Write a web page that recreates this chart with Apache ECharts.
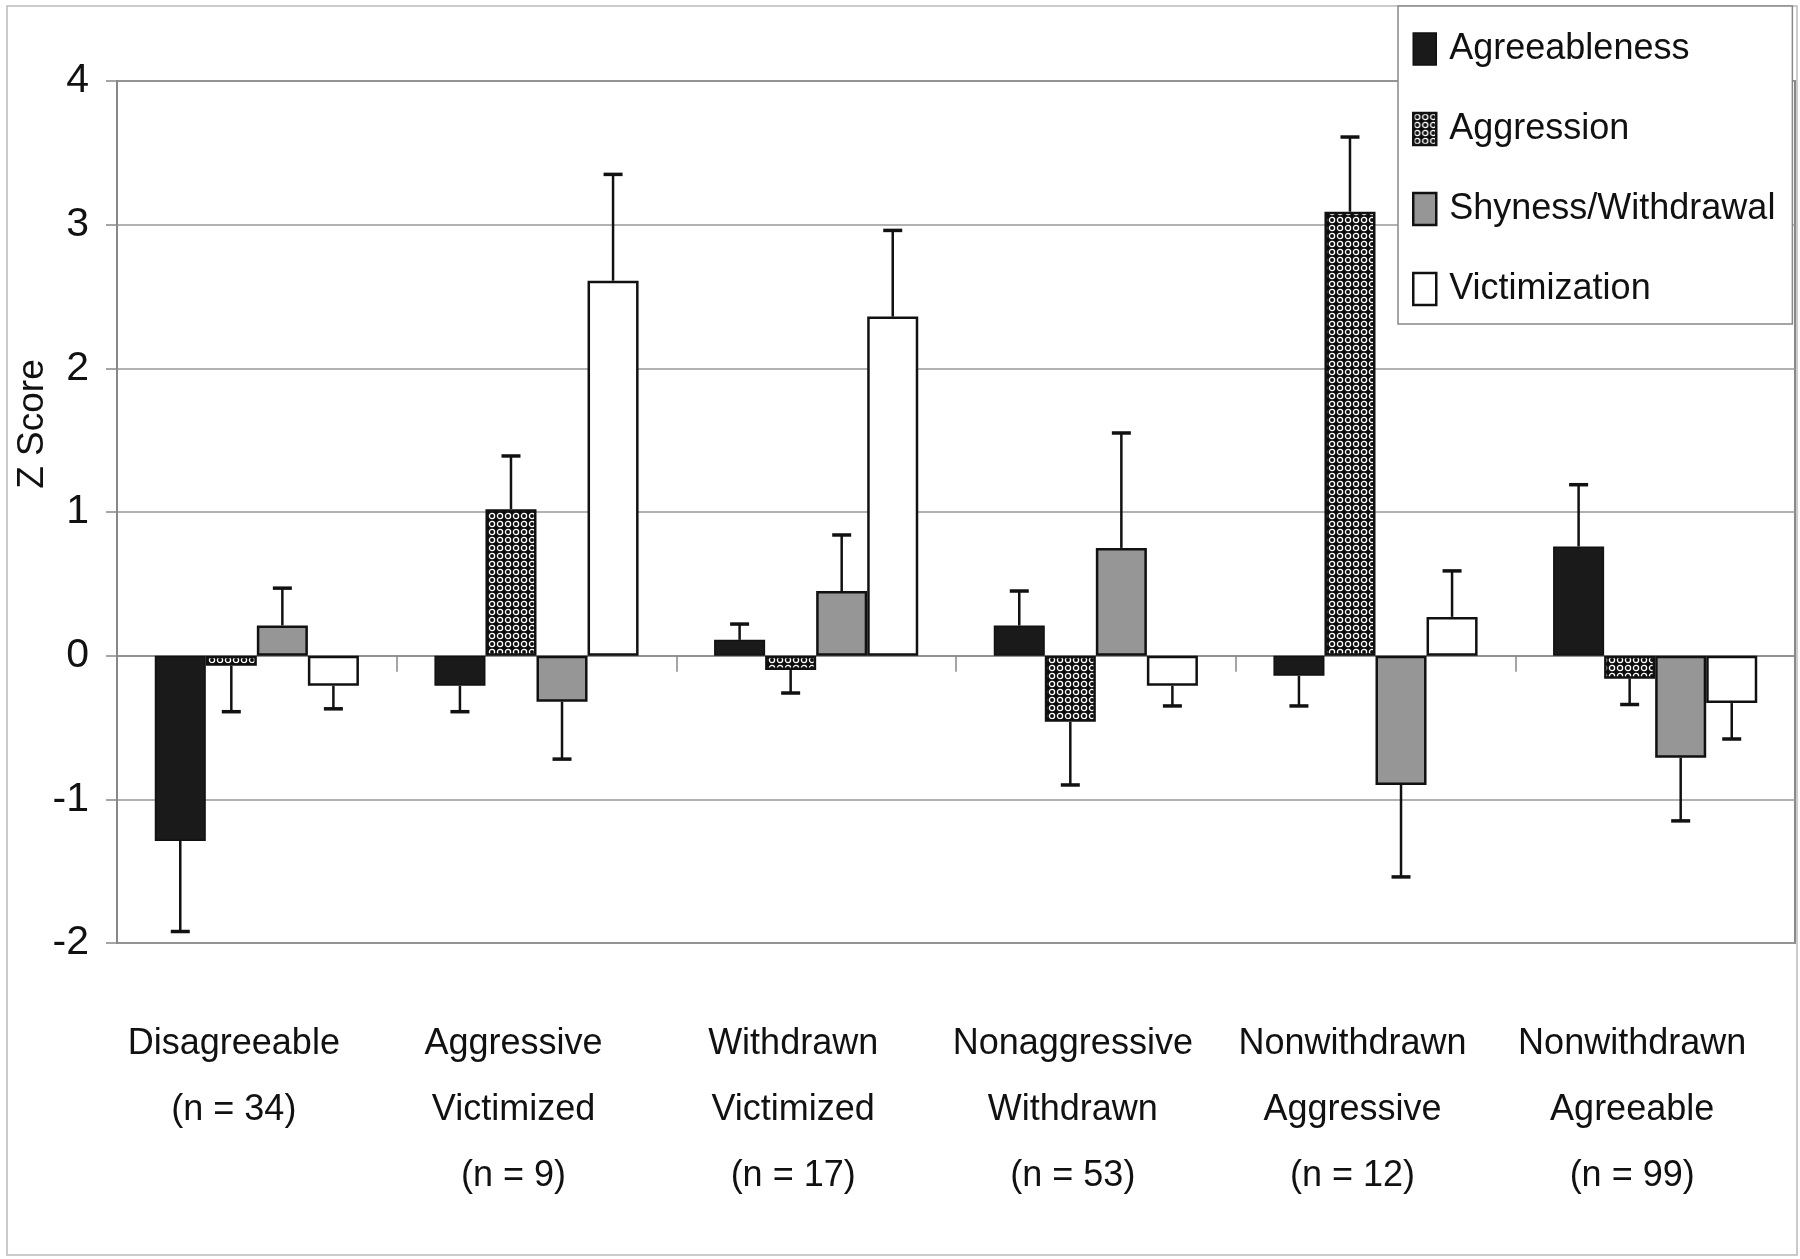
<!DOCTYPE html>
<html>
<head>
<meta charset="utf-8">
<script src="https://cdn.jsdelivr.net/npm/echarts@6/dist/echarts.min.js"></script>
<style>
html,body{margin:0;padding:0;background:#fff;}
#chart{width:1800px;height:1259px;}
</style>
</head>
<body>
<div id="chart"></div>
<script>
// ---- data ----
const categories = [
  'Disagreeable\n(n = 34)',
  'Aggressive\nVictimized\n(n = 9)',
  'Withdrawn\nVictimized\n(n = 17)',
  'Nonaggressive\nWithdrawn\n(n = 53)',
  'Nonwithdrawn\nAggressive\n(n = 12)',
  'Nonwithdrawn\nAgreeable\n(n = 99)'
];
const seriesNames = ['Agreeableness', 'Aggression', 'Shyness/Withdrawal', 'Victimization'];
const agreeableness = [-1.29, -0.21, 0.11, 0.21, -0.14, 0.76];
const aggression    = [-0.07, 1.02, -0.10, -0.46, 3.09, -0.16];
const shyness       = [0.21, -0.32, 0.45, 0.75, -0.90, -0.71];
const victimization = [-0.21, 2.61, 2.36, -0.21, 0.27, -0.33];
// error bar ends (value at the tip of each one-sided error bar)
const agreeablenessErrTip = [-1.92, -0.39, 0.22, 0.45, -0.35, 1.19];
const aggressionErrTip    = [-0.39, 1.39, -0.26, -0.90, 3.61, -0.34];
const shynessErrTip       = [0.47, -0.72, 0.84, 1.55, -1.54, -1.15];
const victimizationErrTip = [-0.37, 3.35, 2.96, -0.35, 0.59, -0.58];
const yTicks = { min: -2, max: 4, interval: 1 };

// ---- styles ----
const FONT = "'Liberation Sans', Arial, sans-serif";
const CAT_GAP = 0.27;

function makePattern() {
  const c = document.createElement('canvas');
  c.width = 8; c.height = 8;
  const ctx = c.getContext('2d');
  ctx.fillStyle = '#0d0d0d';
  ctx.fillRect(0, 0, 8, 8);
  ctx.strokeStyle = '#ffffff';
  ctx.lineWidth = 1.3;
  ctx.beginPath();
  ctx.arc(4, 4, 2.6, 0, Math.PI * 2);
  ctx.stroke();
  return { image: c, repeat: 'repeat' };
}
const pattern = makePattern();

const styles = [
  { color: '#1a1a1a', borderColor: '#111', borderWidth: 1.5 },
  { color: pattern, borderColor: '#111', borderWidth: 2.5 },
  { color: '#969696', borderColor: '#111', borderWidth: 2.5 },
  { color: '#ffffff', borderColor: '#111', borderWidth: 2.5 }
];
const values = [agreeableness, aggression, shyness, victimization];
const tips = [agreeablenessErrTip, aggressionErrTip, shynessErrTip, victimizationErrTip];

const series = [];
values.forEach((arr, s) => {
  series.push({
    name: seriesNames[s],
    type: 'bar',
    data: arr,
    barGap: '0%',
    barCategoryGap: (CAT_GAP * 100) + '%',
    itemStyle: styles[s],
    emphasis: { disabled: true },
    z: 3
  });
});
values.forEach((arr, s) => {
  series.push({
    type: 'custom',
    name: seriesNames[s] + ' err',
    data: arr.map((v, i) => [i, v, tips[s][i]]),
    z: 4,
    silent: true,
    renderItem: function (params, api) {
      const i = api.value(0);
      const c0 = api.coord([i, api.value(1)]);
      const c1 = api.coord([i, api.value(2)]);
      const band = api.size([1, 0])[0];
      const bw = band * (1 - CAT_GAP) / 4;
      const x = c0[0] + (s - 1.5) * bw;
      return {
        type: 'group',
        children: [
          { type: 'line', shape: { x1: x, y1: c0[1], x2: x, y2: c1[1] },
            style: { stroke: '#111', lineWidth: 2.5 } },
          { type: 'line', shape: { x1: x - 9.5, y1: c1[1], x2: x + 9.5, y2: c1[1] },
            style: { stroke: '#111', lineWidth: 3.5 } }
        ]
      };
    }
  });
});

const chart = echarts.init(document.getElementById('chart'), null, { renderer: 'canvas' });
chart.setOption({
  animation: false,
  backgroundColor: '#fff',
  grid: { left: 117, right: 5, top: 81, bottom: 316, show: true,
          borderColor: '#888', borderWidth: 2 },
  legend: {
    data: seriesNames.map((n, s) => ({ name: n, icon: 'rect', itemStyle: styles[s] })),
    orient: 'vertical',
    left: 1398, top: 6,
    itemWidth: 23, itemHeight: 32,
    itemGap: 36,
    padding: [21, 17, 13, 14],
    backgroundColor: '#fff',
    borderColor: '#888', borderWidth: 1.5,
    textStyle: { fontFamily: FONT, fontSize: 36, color: '#111', lineHeight: 44, padding: [0, 0, 0, 8] },
    selectedMode: false,
    z: 10
  },
  xAxis: [
    {
      type: 'category', data: categories,
      axisLine: { onZero: true, lineStyle: { color: '#888', width: 1.5 } },
      axisTick: { show: true, length: 16, inside: false, lineStyle: { color: '#888', width: 1.5 } },
      axisLabel: { show: false },
      splitLine: { show: false }
    },
    {
      type: 'category', data: categories, position: 'bottom',
      axisLine: { show: false, onZero: false }, axisTick: { show: false },
      axisLabel: { interval: 0, fontFamily: FONT, fontSize: 36, color: '#111',
                   lineHeight: 66, margin: 68, padding: [0, 46, 0, 0] }
    }
  ],
  yAxis: {
    type: 'value', min: yTicks.min, max: yTicks.max, interval: yTicks.interval,
    axisLine: { show: true, lineStyle: { color: '#888', width: 2 } },
    axisTick: { show: true, length: 11, lineStyle: { color: '#888', width: 1.5 } },
    axisLabel: { fontFamily: FONT, fontSize: 41, color: '#111', margin: 28 },
    splitLine: { lineStyle: { color: '#999', width: 1.5 } }
  },
  graphic: [
    { type: 'rect', shape: { x: 7, y: 6, width: 1790, height: 1249 },
      style: { fill: 'none', stroke: '#bbb', lineWidth: 1.5 }, z: -10, silent: true },
    { type: 'text', x: 33, y: 424, rotation: Math.PI / 2,
      style: { text: 'Z Score', font: '37px ' + FONT, fill: '#111',
               textAlign: 'center', textVerticalAlign: 'middle' } }
  ],
  series: series
});
</script>
</body>
</html>
